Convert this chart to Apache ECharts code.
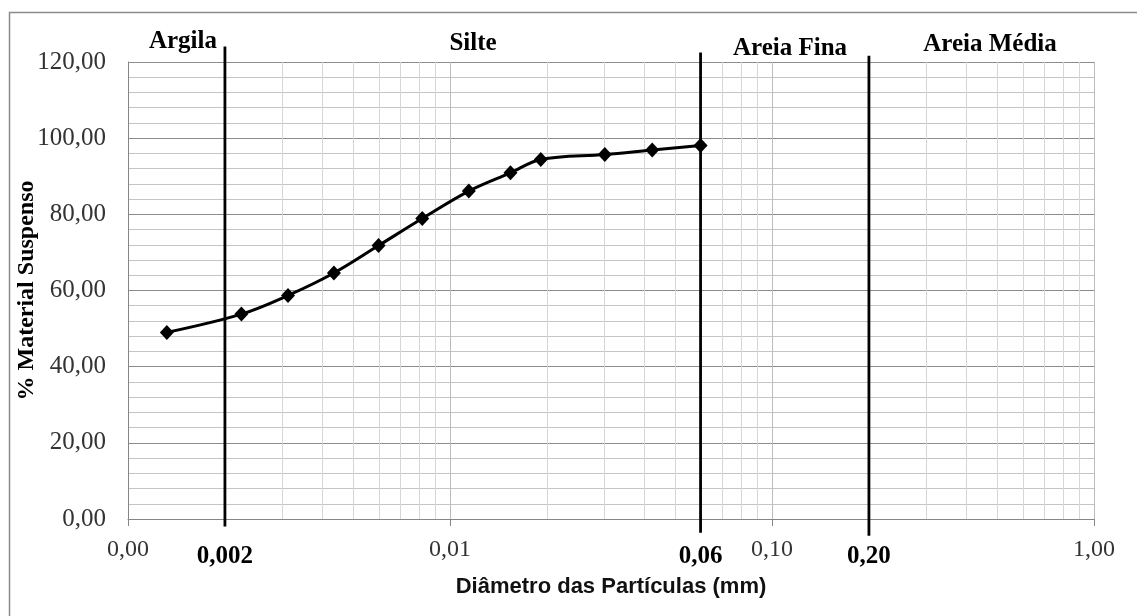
<!DOCTYPE html>
<html>
<head>
<meta charset="utf-8">
<script src="https://cdn.jsdelivr.net/npm/echarts@6/dist/echarts.min.js"></script>
<style>
  html, body { margin: 0; padding: 0; background: #fff; }
  #chart { width: 1137px; height: 616px; }
</style>
</head>
<body>
<div id="chart"></div>
<script>
// Particle size distribution (sedimentation test)
const diameters = [0.00132, 0.00225, 0.00314, 0.00436, 0.0060, 0.0082, 0.01144, 0.01541, 0.01914, 0.03025, 0.04246, 0.0600];
const suspended = [49.0, 53.8, 58.7, 64.6, 71.8, 78.9, 86.1, 90.9, 94.4, 95.7, 96.9, 98.1];

// Soil class limits (mm) and their labels
const boundaries = [0.002, 0.06, 0.2];
const boundaryLabels = ['0,002', '0,06', '0,20'];
const zoneNames = ['Argila', 'Silte', 'Areia Fina', 'Areia Média'];

// Axis ranges
const xRange = [0.001, 1];
const yRange = [0, 120];
const yStep = 20;
const xDecades = [0.001, 0.01, 0.1];

// Styling
const serif = '"Liberation Serif", "Times New Roman", serif';
const sans = '"Liberation Sans", Arial, sans-serif';
const boundaryReach = [[15.6, 7.4], [9.6, 13.7], [6.3, 16.7]];   // px beyond top / bottom of plot
const zoneLabelPos = [
  { x: 217, y: 41.5, align: 'right' },
  { x: 473, y: 44, align: 'center' },
  { x: 790, y: 48.3, align: 'center' },
  { x: 990, y: 45, align: 'center' }
];

const comma = v => v.toFixed(2).replace('.', ',');

// Log-paper minor lines: 2..9 within each decade
const minorX = [];
xDecades.forEach(d => { for (let k = 2; k <= 9; k++) minorX.push([+(k * d).toPrecision(3), 0]); });

const chart = echarts.init(document.getElementById('chart'), null, { renderer: 'canvas' });

chart.setOption({
  animation: false,
  backgroundColor: '#fff',
  grid: { left: 128, top: 62, width: 966, height: 457, containLabel: false, outerBoundsMode: 'none' },
  xAxis: {
    type: 'log',
    logBase: 10,
    min: xRange[0],
    max: xRange[1],
    name: 'Diâmetro das Partículas (mm)',
    nameLocation: 'middle',
    nameGap: 57,
    nameMoveOverlap: false,
    nameTextStyle: { fontFamily: sans, fontWeight: 'bold', fontSize: 22, color: '#111' },
    axisLine: { show: true, lineStyle: { color: '#868686', width: 1 } },
    axisTick: { show: true, length: 7, lineStyle: { color: '#868686' } },
    axisLabel: {
      margin: 19,
      fontFamily: serif, fontSize: 24, color: '#333',
      formatter: v => comma(v)
    },
    splitLine: { show: true, lineStyle: { color: '#bcbcbc', width: 1 } }
  },
  yAxis: {
    type: 'value',
    min: yRange[0],
    max: yRange[1],
    interval: yStep,
    name: '% Material Suspenso',
    nameLocation: 'middle',
    nameGap: 89,
    nameMoveOverlap: false,
    nameTextStyle: { fontFamily: serif, fontWeight: 'bold', fontSize: 24, color: '#000' },
    axisLine: { show: true, lineStyle: { color: '#868686', width: 1 } },
    axisTick: { show: false },
    axisLabel: {
      margin: 22,
      fontFamily: serif, fontSize: 25, color: '#333',
      formatter: v => comma(v)
    },
    splitLine: { show: true, lineStyle: { color: '#8c8c8c', width: 1 } },
    minorTick: { show: false, splitNumber: 5 },
    minorSplitLine: { show: true, lineStyle: { color: '#c4c4c4', width: 1 } }
  },
  graphic: [
    {
      type: 'rect', silent: true, z: -10,
      shape: { x: 9.5, y: 12.5, width: 1200, height: 700 },
      style: { fill: 'none', stroke: '#8a8a8a', lineWidth: 1.5 }
    },
    ...zoneNames.map((name, i) => ({
      type: 'text', silent: true,
      x: zoneLabelPos[i].x, y: zoneLabelPos[i].y,
      style: {
        text: name, fill: '#000',
        font: 'bold 25px ' + serif,
        align: zoneLabelPos[i].align, textAlign: zoneLabelPos[i].align,
        verticalAlign: 'middle', textVerticalAlign: 'middle'
      }
    }))
  ],
  series: [
    {
      // minor vertical grid lines
      type: 'custom',
      silent: true,
      z: 0,
      data: minorX,
      renderItem: (params, api) => {
        const v = api.value(0);
        const a = api.coord([v, yRange[0]]);
        const b = api.coord([v, yRange[1]]);
        return {
          type: 'line',
          shape: { x1: Math.round(a[0]) + 0.5, y1: a[1], x2: Math.round(a[0]) + 0.5, y2: b[1] },
          style: { stroke: '#d6d6d6', lineWidth: 1 }
        };
      }
    },
    {
      // class limits
      type: 'custom',
      silent: true,
      z: 3,
      data: boundaries.map(v => [v, 0]),
      renderItem: (params, api) => {
        const i = params.dataIndex;
        const v = api.value(0);
        const top = api.coord([v, yRange[1]]);
        const bot = api.coord([v, yRange[0]]);
        return {
          type: 'group',
          children: [
            {
              type: 'line',
              shape: { x1: top[0], y1: top[1] - boundaryReach[i][0], x2: bot[0], y2: bot[1] + boundaryReach[i][1] },
              style: { stroke: '#000', lineWidth: 2.8 }
            },
            {
              type: 'text',
              x: bot[0], y: bot[1] + 38,
              style: {
                text: boundaryLabels[i], fill: '#000',
                font: 'bold 25px ' + serif,
                align: 'center', textAlign: 'center',
                verticalAlign: 'middle', textVerticalAlign: 'middle'
              }
            }
          ]
        };
      }
    },
    {
      type: 'line',
      z: 4,
      data: diameters.map((d, i) => [d, suspended[i]]),
      smooth: 0.35,
      symbol: 'diamond',
      symbolSize: [14, 15],
      itemStyle: { color: '#000' },
      lineStyle: { color: '#000', width: 3 }
    }
  ]
});
</script>
</body>
</html>
